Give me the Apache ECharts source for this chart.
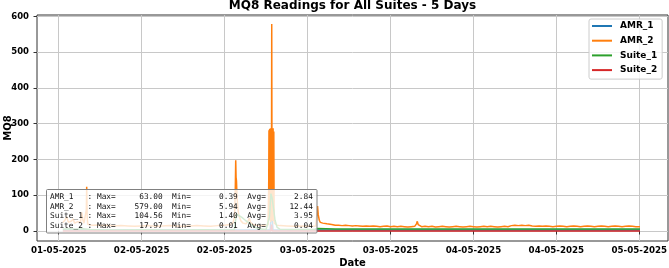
<!DOCTYPE html>
<html>
<head>
<meta charset="utf-8">
<script src="https://cdn.jsdelivr.net/npm/echarts@6/dist/echarts.min.js"></script>
<style>
  html, body { margin: 0; padding: 0; background: #fff; }
  #chart { width: 669px; height: 268px; }
</style>
</head>
<body>
<div id="chart"></div>
<script>
// ============================= data ===============================
// hours since 01-05-2025 00:00, reading

const seriesNames = ['AMR_1', 'AMR_2', 'Suite_1', 'Suite_2'];
const seriesColors = ['#1f77b4', '#ff7f0e', '#2ca02c', '#d62728'];

const amr1 = [
  [12.6, 3], [16, 3.2], [20, 2.8], [24, 2.9], [28, 2.7], [32, 3], [36, 2.8],
  [42.6, 3], [42.8, 63], [43, 3], [48, 2.8], [54, 2.7], [60, 2.9], [66, 2.8],
  [72, 2.7], [78, 2.9], [84, 2.8], [90, 2.7], [96.1, 2.8]
];

const amr2 = [
  [12.6, 24], [12.9, 30], [13.16, 40], [13.4, 24], [13.63, 21], [13.85, 28],
  [14.07, 34], [14.3, 22], [14.5, 19], [14.75, 26], [14.94, 30], [15.15, 24],
  [15.33, 52], [15.5, 30], [15.66, 22], [15.9, 20], [16.0, 60], [16.05, 124],
  [16.12, 40], [16.2, 19], [16.53, 17], [17, 16], [17.5, 17], [18, 15],
  [19, 16], [20, 14], [21, 15], [22, 14], [23, 13], [24, 14], [25, 15],
  [26, 13], [27, 14], [28, 15], [29, 14], [30, 13], [31, 14], [32, 15],
  [33, 14], [34, 13], [35, 15], [36, 16], [36.8, 18], [37.2, 22], [37.45, 40],
  [37.55, 120], [37.61, 198], [37.66, 150], [37.72, 140], [37.8, 95],
  [37.94, 60], [38.08, 42], [38.37, 28], [38.66, 22], [39.1, 20], [39.39, 28],
  [39.58, 36], [39.75, 24], [40.11, 18], [40.6, 16], [41.12, 15], [41.7, 16],
  [42.28, 17], [42.38, 120], [42.42, 282], [42.47, 30], [42.52, 286],
  [42.57, 40], [42.62, 280], [42.67, 25], [42.72, 288], [42.77, 35],
  [42.82, 579], [42.87, 30], [42.92, 284], [42.97, 28], [43.02, 287],
  [43.07, 40], [43.12, 278], [43.17, 22], [43.3, 18], [43.6, 16], [44, 15],
  [45, 14], [46, 13], [47, 14], [48, 13], [49.2, 14], [49.37, 18], [49.45, 70],
  [49.55, 45], [49.7, 30], [49.85, 24], [50.2, 22], [50.8, 20], [51.5, 18],
  [52, 16], [52.5, 16], [53, 15], [53.5, 16], [54, 15], [54.5, 14], [55, 15],
  [55.5, 14], [56, 13], [56.5, 14], [57, 13], [57.5, 14], [58, 13], [58.5, 12],
  [59, 13], [59.5, 14], [60, 12], [60.5, 13], [61, 12], [61.5, 13], [62, 12],
  [62.5, 11], [63, 12], [63.5, 13], [63.76, 20], [63.88, 27], [64.0, 18],
  [64.2, 13], [64.5, 12], [65, 13], [65.5, 12], [66, 13], [66.5, 11], [67, 12],
  [67.5, 13], [68, 12], [68.5, 11], [69, 12], [69.5, 13], [70, 12], [70.5, 11],
  [71, 12], [71.5, 13], [72, 12], [72.5, 11], [73, 12], [73.5, 13], [74, 12],
  [74.5, 13], [75, 12], [75.5, 11], [76, 12], [76.5, 13], [77, 12], [77.5, 15],
  [78, 16], [78.5, 15], [79, 16], [79.5, 15], [80, 16], [80.5, 14], [81, 13],
  [81.5, 14], [82, 13], [82.5, 14], [83, 13], [83.5, 12], [84, 13], [84.5, 14],
  [85, 13], [85.5, 12], [86, 13], [86.5, 14], [87, 13], [87.5, 12], [88, 13],
  [88.5, 14], [89, 13], [89.5, 12], [90, 13], [90.5, 14], [91, 13], [91.5, 12],
  [92, 13], [92.5, 14], [93, 13], [93.5, 12], [94, 13], [94.5, 14], [95, 13],
  [95.5, 12], [96.1, 12]
];

const suite1 = [
  [12.6, 5], [13.5, 6], [14.5, 5], [15.5, 6], [16.5, 4], [18, 3], [21, 3],
  [24, 3.5], [27, 3], [30, 3], [33, 3.5], [36, 3], [37.4, 3], [37.6, 30],
  [37.7, 48], [38.0, 44], [38.5, 38], [39.0, 30], [39.6, 22], [40.2, 12],
  [41, 6], [42, 4], [42.5, 40], [42.7, 104.56], [42.9, 90], [43.1, 60],
  [43.3, 30], [43.6, 10], [44, 5], [46, 4], [49, 4], [49.4, 7], [52, 5.5],
  [56, 5.5], [60, 5.5], [64, 5.5], [68, 5.5], [72, 5.5], [76, 5.5], [80, 5.5],
  [84, 5.5], [88, 5.5], [92, 5.5], [96.1, 5.5]
];

const suite2 = [
  [12.6, 0], [42.7, 0], [42.8, 17.97], [42.9, 0], [96.1, 0]
];

// stats box
const statMax = [63.00, 579.00, 104.56, 17.97];
const statMin = [0.39, 5.94, 1.40, 0.01];
const statAvg = [2.84, 12.44, 3.95, 0.04];

// x ticks every 12 h (hours since 01-05-2025 00:00), y ticks
const xTickHours = [12, 24, 36, 48, 60, 72, 84, 96];
const yTicks = [0, 100, 200, 300, 400, 500, 600];

// ============================= helpers ===============================
const baseTime = Date.UTC(2025, 4, 1);
function pad2(n) {
    return (n < 10 ? '0' : '') + n;
}
// hour offset -> dd-mm-yyyy
function fmtDate(h) {
    const d = new Date(baseTime + Math.round(h * 3600) * 1000);
    return pad2(d.getUTCDate()) + '-' + pad2(d.getUTCMonth() + 1) + '-' + d.getUTCFullYear();
}

const allData = [amr1, amr2, suite1, suite2];

const statText = seriesNames.map(function (name, i) {
    return name.padEnd(8) + ': Max=' + statMax[i].toFixed(2).padStart(10) +
        '  Min=' + statMin[i].toFixed(2).padStart(10) +
        '  Avg=' + statAvg[i].toFixed(2).padStart(10);
}).join('\n');

const font = 'DejaVu Sans';

// ============================= option ===============================
let option = {
    animation: false,
    title: {
        text: 'MQ8 Readings for All Suites - 5 Days',
        left: 352.5,
        top: 0,
        padding: 0,
        textAlign: 'center',
        textStyle: {
            fontFamily: font,
            fontWeight: 'bold',
            fontSize: 12,
            lineHeight: 11,
            color: '#000'
        }
    },
    legend: {
        orient: 'vertical',
        left: 589,
        top: 19,
        icon: 'rect',
        itemWidth: 20,
        itemHeight: 2,
        itemGap: 4.7,
        padding: [2, 5, 4, 3],
        backgroundColor: 'rgba(255,255,255,0.8)',
        borderColor: '#cccccc',
        borderWidth: 1,
        borderRadius: 2,
        textStyle: {
            fontFamily: font,
            fontWeight: 'bold',
            fontSize: 9,
            lineHeight: 10,
            color: '#000',
            padding: [0, 0, 0, 3]
        },
        data: seriesNames
    },
    grid: {
        left: 37,
        right: 1,
        top: 15,
        bottom: 27,
        outerBoundsMode: 'none',
        containLabel: false,
        show: true,
        borderColor: '#333',
        borderWidth: 1,
        backgroundColor: 'transparent'
    },
    xAxis: {
        type: 'value',
        min: 12 - 3.14,
        max: 12 + 88.15,
        name: 'Date',
        nameLocation: 'middle',
        nameGap: 17,
        nameMoveOverlap: false,
        nameTextStyle: { fontFamily: font, fontWeight: 'bold', fontSize: 10, color: '#000' },
        axisLine: { show: false },
        axisTick: {
            show: true, length: 3.5, inside: false,
            customValues: xTickHours,
            lineStyle: { color: '#333', width: 1 }
        },
        axisLabel: {
            customValues: xTickHours,
            formatter: function (v) { return fmtDate(v); },
            margin: 5,
            fontFamily: font,
            fontWeight: 'bold',
            fontSize: 8.7,
            color: '#000'
        },
        splitLine: { show: true, lineStyle: { color: '#c8c8c8', width: 1 } }
    },
    yAxis: {
        type: 'value',
        min: -28,
        max: 604,
        name: 'MQ8',
        nameLocation: 'middle',
        nameRotate: 90,
        nameGap: 24,
        nameMoveOverlap: false,
        nameTextStyle: { fontFamily: font, fontWeight: 'bold', fontSize: 10, color: '#000' },
        axisLine: { show: false },
        axisTick: {
            show: true, length: 3.5, inside: false,
            customValues: yTicks,
            lineStyle: { color: '#333', width: 1 }
        },
        axisLabel: {
            customValues: yTicks,
            margin: 8,
            fontFamily: font,
            fontWeight: 'bold',
            fontSize: 8.5,
            color: '#000'
        },
        splitLine: { show: true, lineStyle: { color: '#c8c8c8', width: 1 } }
    },
    series: seriesNames.map(function (name, i) {
        return {
            name: name,
            type: 'line',
            showSymbol: false,
            symbol: 'none',
            color: seriesColors[i],
            lineStyle: { width: 1.5, color: seriesColors[i] },
            data: allData[i]
        };
    }),
    graphic: [
        {
            type: 'rect',
            z: 100,
            shape: { x: 46.5, y: 189.5, width: 270.5, height: 43.5, r: 1 },
            style: { fill: 'rgba(255,255,255,0.8)', stroke: '#808080', lineWidth: 1 }
        },
        {
            type: 'text',
            z: 101,
            x: 50,
            y: 192,
            style: {
                text: statText,
                fontFamily: 'DejaVu Sans Mono',
                fontSize: 7.8,
                lineHeight: 9.7,
                fill: '#111',
                verticalAlign: 'top',
                align: 'left'
            }
        }
    ]
};

// ============================= render ===============================
echarts.init(document.getElementById('chart'), null, { renderer: 'canvas' }).setOption(option);
</script>
</body>
</html>
